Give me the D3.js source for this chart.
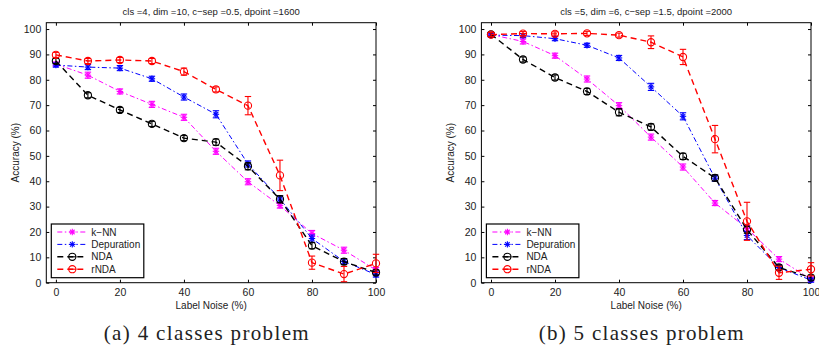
<!DOCTYPE html>
<html>
<head>
<meta charset="utf-8">
<script src="https://cdn.jsdelivr.net/npm/d3@7"></script>
<style>
  body { margin: 0; background: #fff; }
  svg { display: block; font-family: "Liberation Sans", Arial, sans-serif; }
</style>
</head>
<body>
<svg id="chart" width="819" height="353"></svg>
<script>
// label noise levels (x axis)
const noise = [0, 10, 20, 30, 40, 50, 60, 70, 80, 90, 100];
const xTicks = [0, 20, 40, 60, 80, 100];
const yTicks = [0, 10, 20, 30, 40, 50, 60, 70, 80, 90, 100];
const methods = ["k\u2212NN", "Depuration", "NDA", "rNDA"];

// (a) 4 classes problem
const aKnn = [86.2, 81.8, 75.4, 70.3, 65.2, 51.8, 39.8, 30.4, 19.4, 12.8, 5.0];
const aKnnErr = [0.8, 1.2, 1.0, 1.2, 1.2, 1.2, 1.2, 1.0, 1.2, 1.2, 1.0];
const aDep = [85.8, 85.0, 84.6, 80.4, 73.2, 66.4, 46.8, 33.0, 17.4, 8.4, 3.2];
const aDepErr = [0.8, 1.0, 1.0, 1.0, 1.2, 1.4, 1.2, 1.2, 1.4, 1.0, 1.0];
const aNda = [87.4, 73.9, 68.1, 62.6, 57.0, 55.4, 45.9, 32.9, 14.6, 8.3, 4.0];
const aNdaErr = [1.0, 1.0, 1.0, 1.0, 1.0, 1.2, 1.4, 1.4, 1.2, 1.2, 1.0];
const aRnda = [89.8, 87.4, 87.8, 87.4, 83.2, 76.2, 69.8, 42.3, 7.9, 3.4, 7.6];
const aRndaErr = [1.0, 1.0, 1.0, 1.0, 1.4, 1.0, 3.6, 6.0, 2.6, 3.0, 3.6];

// (b) 5 classes problem
const bKnn = [97.8, 95.1, 89.5, 80.3, 69.8, 57.4, 45.6, 31.4, 21.4, 9.3, 1.4];
const bKnnErr = [0.8, 1.0, 1.0, 1.2, 1.2, 1.2, 1.2, 1.0, 1.2, 1.0, 0.8];
const bDep = [97.6, 97.4, 96.2, 93.6, 88.6, 77.2, 65.6, 41.2, 18.6, 6.0, 1.0];
const bDepErr = [0.8, 0.8, 0.8, 0.8, 1.0, 1.4, 1.4, 1.2, 1.6, 1.0, 0.8];
const bNda = [97.9, 88.0, 80.9, 75.4, 67.2, 61.4, 49.8, 41.3, 20.9, 6.0, 2.0];
const bNdaErr = [0.8, 1.0, 1.0, 1.2, 1.4, 1.2, 1.2, 1.2, 1.4, 1.0, 1.0];
const bRnda = [97.8, 98.2, 98.1, 98.3, 97.6, 94.8, 89.0, 56.6, 24.2, 3.9, 5.3];
const bRndaErr = [0.8, 0.8, 0.8, 0.8, 0.8, 2.5, 3.0, 5.4, 7.5, 2.6, 2.6];

const styles = [
  { color: "#ff00ff", dash: "5,2.5,1.5,2.5", width: 1, marker: "star" },
  { color: "#0000ff", dash: "5,2.5,1.5,2.5", width: 1, marker: "star" },
  { color: "#000000", dash: "6,4", width: 1.4, marker: "circle" },
  { color: "#ff0000", dash: "6,4", width: 1.4, marker: "circle" }
];

const panels = [
  {
    left: 46.3, right: 376, title: "cls =4, dim =10, c\u2212sep =0.5, dpoint =1600",
    caption: "(a) 4 classes problem",
    series: [[aKnn, aKnnErr], [aDep, aDepErr], [aNda, aNdaErr], [aRnda, aRndaErr]]
  },
  {
    left: 481.4, right: 811, title: "cls =5, dim =6, c\u2212sep =1.5, dpoint =2000",
    caption: "(b) 5 classes problem",
    series: [[bKnn, bKnnErr], [bDep, bDepErr], [bNda, bNdaErr], [bRnda, bRndaErr]]
  }
];

const plotTop = 22.7, plotBottom = 282.7;
const svg = d3.select("#chart");

function drawMarker(g, type, cx, cy, color) {
  if (type === "circle") {
    g.append("circle").attr("cx", cx).attr("cy", cy).attr("r", 3.6)
      .attr("fill", "none").attr("stroke", color).attr("stroke-width", 1.1);
  } else {
    const r = 3.2;
    for (let a = 0; a < 4; a++) {
      const ang = a * Math.PI / 4;
      g.append("line")
        .attr("x1", cx - r * Math.cos(ang)).attr("y1", cy - r * Math.sin(ang))
        .attr("x2", cx + r * Math.cos(ang)).attr("y2", cy + r * Math.sin(ang))
        .attr("stroke", color).attr("stroke-width", 1.1);
    }
  }
}

panels.forEach(function (p) {
  const x = d3.scaleLinear().domain([-3, 100]).range([p.left, p.right]);
  const y = d3.scaleLinear().domain([0, 102.5]).range([plotBottom, plotTop]);
  const g = svg.append("g");

  // axes with inward ticks
  g.append("g").attr("transform", `translate(0,${plotBottom})`)
    .call(d3.axisBottom(x).tickValues(xTicks).tickSizeInner(-3).tickSizeOuter(0).tickPadding(6))
    .call(a => a.select(".domain").remove())
    .selectAll("text").attr("font-size", "10.5px").attr("fill", "#222");
  g.append("g").attr("transform", `translate(0,${plotTop})`)
    .call(d3.axisTop(x).tickValues(xTicks).tickSizeInner(-3).tickSizeOuter(0).tickFormat(""))
    .call(a => a.select(".domain").remove());
  g.append("g").attr("transform", `translate(${p.left},0)`)
    .call(d3.axisLeft(y).tickValues(yTicks).tickSizeInner(-3).tickSizeOuter(0).tickPadding(5))
    .call(a => a.select(".domain").remove())
    .selectAll("text").attr("font-size", "10.5px").attr("fill", "#222");
  g.append("g").attr("transform", `translate(${p.right},0)`)
    .call(d3.axisRight(y).tickValues(yTicks).tickSizeInner(-3).tickSizeOuter(0).tickFormat(""))
    .call(a => a.select(".domain").remove());

  g.append("rect").attr("x", p.left).attr("y", plotTop)
    .attr("width", p.right - p.left).attr("height", plotBottom - plotTop)
    .attr("fill", "none").attr("stroke", "#000").attr("stroke-width", 1);

  const plot = g.append("g");
  p.series.forEach(function (s, i) {
    const st = styles[i];
    const vals = s[0], errs = s[1];
    const line = d3.line().x((d, k) => x(noise[k])).y(d => y(d));
    plot.append("path").datum(vals).attr("d", line)
      .attr("fill", "none").attr("stroke", st.color)
      .attr("stroke-width", st.width).attr("stroke-dasharray", st.dash);
    vals.forEach(function (v, k) {
      const cx = x(noise[k]);
      const y1 = y(v - errs[k]), y2 = y(v + errs[k]);
      plot.append("line").attr("x1", cx).attr("x2", cx).attr("y1", y1).attr("y2", y2)
        .attr("stroke", st.color).attr("stroke-width", 1.1);
      [y1, y2].forEach(function (yy) {
        plot.append("line").attr("x1", cx - 3.2).attr("x2", cx + 3.2).attr("y1", yy).attr("y2", yy)
          .attr("stroke", st.color).attr("stroke-width", 1.1);
      });
      drawMarker(plot, st.marker, cx, y(v), st.color);
    });
  });

  // title and axis labels
  g.append("text").attr("x", (p.left + p.right) / 2).attr("y", 15)
    .attr("text-anchor", "middle").attr("font-size", "9.5px").attr("fill", "#222").text(p.title);
  g.append("text").attr("x", (p.left + p.right) / 2).attr("y", 308.5)
    .attr("text-anchor", "middle").attr("font-size", "10px").attr("fill", "#222").text("Label Noise (%)");
  g.append("text")
    .attr("transform", `translate(${p.left - 27},${(plotTop + plotBottom) / 2}) rotate(-90)`)
    .attr("text-anchor", "middle").attr("font-size", "10px").attr("fill", "#222").text("Accuracy (%)");

  // legend
  const lx = p.left + 5, ly = 224;
  const leg = g.append("g");
  leg.append("rect").attr("x", lx).attr("y", ly).attr("width", 92.5).attr("height", 53.7)
    .attr("fill", "#fff").attr("stroke", "#000").attr("stroke-width", 1.2);
  methods.forEach(function (m, i) {
    const st = styles[i];
    const yy = ly + 8 + i * 12.4;
    leg.append("line").attr("x1", lx + 6).attr("x2", lx + 36).attr("y1", yy).attr("y2", yy)
      .attr("stroke", st.color).attr("stroke-width", st.width).attr("stroke-dasharray", st.dash);
    if (st.marker === "circle") {
      leg.append("line").attr("x1", lx + 17).attr("x2", lx + 25).attr("y1", yy).attr("y2", yy)
        .attr("stroke", st.color).attr("stroke-width", 1.1);
    }
    drawMarker(leg, st.marker, lx + 21, yy, st.color);
    leg.append("text").attr("x", lx + 40).attr("y", yy + 3.6)
      .attr("font-size", "10px").attr("fill", "#222").text(m);
  });

  // caption
  g.append("text").attr("x", (p.left + p.right) / 2 - 5).attr("y", 340)
    .attr("text-anchor", "middle").attr("font-family", "'Liberation Serif', 'DejaVu Serif', serif")
    .attr("font-size", "21px").attr("fill", "#222")
    .attr("textLength", 205).attr("lengthAdjust", "spacing").text(p.caption);
});
</script>
</body>
</html>
